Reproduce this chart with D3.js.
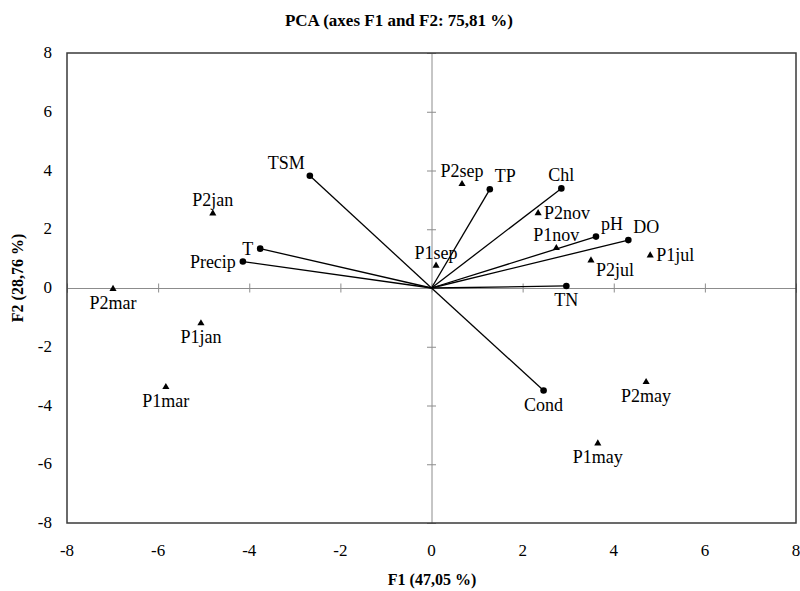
<!DOCTYPE html>
<html>
<head>
<meta charset="utf-8">
<script src="https://cdn.jsdelivr.net/npm/d3@7"></script>
<style>
  body { margin: 0; background: #fff; }
</style>
</head>
<body>
<div id="chart"></div>
<script>
// variables (arrows from origin)
var varNames = ["TSM", "T", "Precip", "TP", "Chl", "pH", "DO", "TN", "Cond"]
var varF1 = [-2.67, -3.76, -4.14, 1.28, 2.85, 3.61, 4.32, 2.96, 2.46]
var varF2 = [3.82, 1.34, 0.90, 3.36, 3.39, 1.75, 1.63, 0.07, -3.49]
var varPos = ["tl", "l", "l", "tr", "t", "tr", "tr", "b", "b"]

// observations (triangles)
var obsNames = ["P2mar", "P2jan", "P1jan", "P1mar", "P1sep", "P2sep", "P2nov", "P1nov", "P2jul", "P1jul", "P2may", "P1may"]
var obsF1 = [-6.99, -4.80, -5.06, -5.83, 0.10, 0.67, 2.34, 2.74, 3.50, 4.80, 4.71, 3.65]
var obsF2 = [-0.03, 2.54, -1.20, -3.37, 0.76, 3.54, 2.55, 1.36, 0.94, 1.11, -3.20, -5.29]
var obsPos = ["b", "t", "b", "b", "t", "t", "r", "t", "br", "r", "b", "b"]

var ticks = [-8, -6, -4, -2, 0, 2, 4, 6, 8]

var width = 800, height = 591
var margin = {left: 67, right: 4, top: 53, bottom: 68}
var serif = "'Liberation Serif', 'Times New Roman', 'DejaVu Serif', serif"

var svg = d3.select("#chart").append("svg")
    .attr("width", width)
    .attr("height", height)
    .attr("font-family", serif)

var x = d3.scaleLinear().domain([-8, 8]).range([margin.left, width - margin.right])
var y = d3.scaleLinear().domain([-8, 8]).range([height - margin.bottom, margin.top])

// zero axes with cross ticks
svg.append("g")
    .attr("transform", "translate(0," + y(0) + ")")
    .call(d3.axisBottom(x).tickValues(ticks).tickSize(4.5).tickFormat(""))
    .call(g => g.selectAll("line,path").attr("stroke", "#8c8c8c"))
    .call(g => g.selectAll(".tick line").attr("y1", -4.5))
svg.append("g")
    .attr("transform", "translate(" + x(0) + ",0)")
    .call(d3.axisLeft(y).tickValues(ticks).tickSize(4.5).tickFormat(""))
    .call(g => g.selectAll("line,path").attr("stroke", "#8c8c8c"))
    .call(g => g.selectAll(".tick line").attr("x1", 4.5))

// frame
svg.append("rect")
    .attr("x", x(-8)).attr("y", y(8))
    .attr("width", x(8) - x(-8)).attr("height", y(-8) - y(8))
    .attr("fill", "none").attr("stroke", "#3a3a3a").attr("stroke-width", 1.5)

// tick labels
svg.append("g").selectAll("text").data(ticks).join("text")
    .attr("x", d => x(d)).attr("y", height - margin.bottom + 33)
    .attr("text-anchor", "middle").attr("font-size", 17)
    .attr("font-family", serif)
    .text(d => d)
svg.append("g").selectAll("text").data(ticks).join("text")
    .attr("x", margin.left - 15).attr("y", d => y(d) + 5)
    .attr("text-anchor", "end").attr("font-size", 17)
    .attr("font-family", serif)
    .text(d => d)

// titles
svg.append("text").attr("x", 399).attr("y", 26)
    .attr("text-anchor", "middle").attr("font-size", 17).attr("font-weight", "bold")
    .attr("font-family", serif)
    .text("PCA (axes F1 and F2: 75,81 %)")
svg.append("text").attr("x", 432).attr("y", 585)
    .attr("text-anchor", "middle").attr("font-size", 16).attr("font-weight", "bold")
    .attr("font-family", serif)
    .text("F1 (47,05 %)")
svg.append("text").attr("transform", "translate(23,278) rotate(-90)")
    .attr("text-anchor", "middle").attr("font-size", 16).attr("font-weight", "bold")
    .attr("font-family", serif)
    .text("F2 (28,76 %)")

var vars = varNames.map((n, i) => ({name: n, f1: varF1[i], f2: varF2[i], pos: varPos[i]}))
var obs = obsNames.map((n, i) => ({name: n, f1: obsF1[i], f2: obsF2[i], pos: obsPos[i]}))

// label placement
function lx(d) {
    var p = d.pos
    if (p == "l") return x(d.f1) - 7
    if (p == "r") return x(d.f1) + 6
    if (p == "tl") return x(d.f1) - 5
    if (p == "tr") return x(d.f1) + 5
    if (p == "br") return x(d.f1) + 5
    return x(d.f1)
}
function ly(d) {
    var p = d.pos
    if (p == "l" || p == "r") return y(d.f2) + 6
    if (p == "b") return y(d.f2) + 20
    if (p == "br") return y(d.f2) + 16
    return y(d.f2) - 7
}
function anchor(d) {
    var p = d.pos
    if (p == "l" || p == "tl") return "end"
    if (p == "r" || p == "tr" || p == "br") return "start"
    return "middle"
}

svg.append("g").selectAll("line").data(vars).join("line")
    .attr("x1", x(0)).attr("y1", y(0))
    .attr("x2", d => x(d.f1)).attr("y2", d => y(d.f2))
    .attr("stroke", "#000").attr("stroke-width", 1.3)
svg.append("g").selectAll("circle").data(vars).join("circle")
    .attr("cx", d => x(d.f1)).attr("cy", d => y(d.f2))
    .attr("r", 3.3).attr("fill", "#000")

svg.append("g").selectAll("path").data(obs).join("path")
    .attr("transform", d => "translate(" + x(d.f1) + "," + y(d.f2) + ")")
    .attr("d", d3.symbol(d3.symbolTriangle, 22))
    .attr("fill", "#000")

svg.append("g").selectAll("text").data(vars.concat(obs)).join("text")
    .attr("x", lx).attr("y", ly)
    .attr("text-anchor", anchor)
    .attr("font-size", 18)
    .attr("font-family", serif)
    .text(d => d.name)
</script>
</body>
</html>
